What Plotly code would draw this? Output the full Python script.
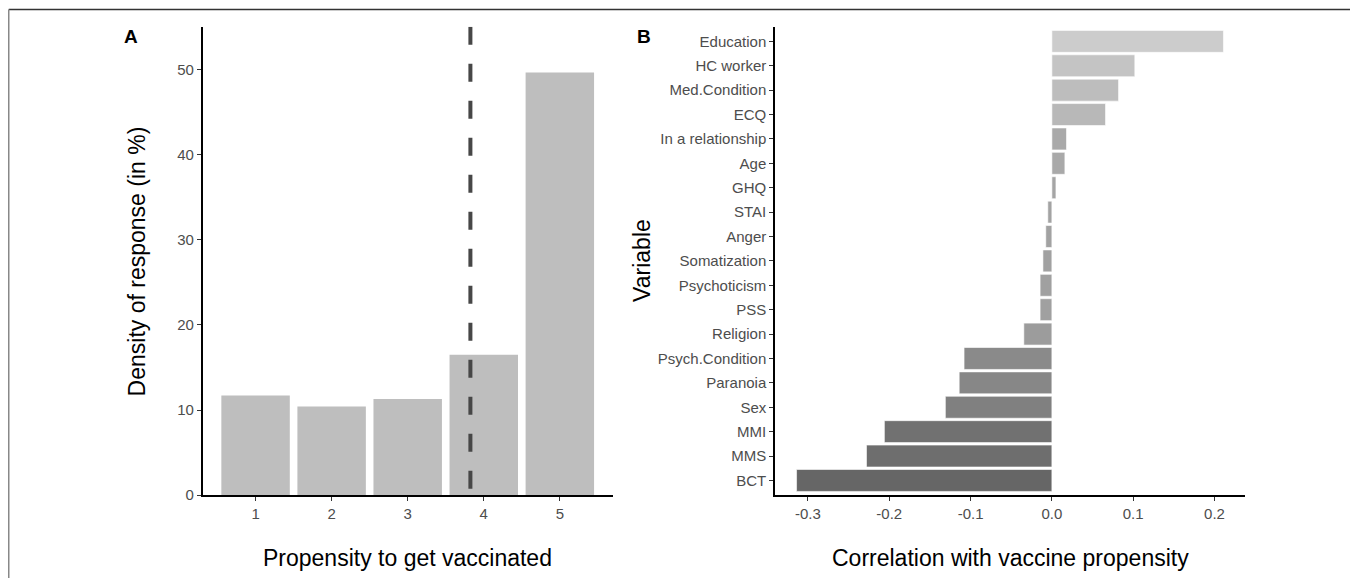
import plotly.graph_objects as go

# ---------------- data ----------------
response_levels = [1, 2, 3, 4, 5]
density_pct = [11.7, 10.4, 11.3, 16.5, 49.7]

variables = ["Education", "HC worker", "Med.Condition", "ECQ", "In a relationship",
             "Age", "GHQ", "STAI", "Anger", "Somatization", "Psychoticism", "PSS",
             "Religion", "Psych.Condition", "Paranoia", "Sex", "MMI", "MMS", "BCT"]
correlations = [0.211, 0.102, 0.082, 0.066, 0.018, 0.016, 0.005, -0.005, -0.0075,
                -0.011, -0.0145, -0.0145, -0.0345, -0.108, -0.114, -0.131, -0.206,
                -0.228, -0.314]

x_ticks_b = [-0.3, -0.2, -0.1, 0.0, 0.1, 0.2]
x_ticktext_b = ["-0.3", "-0.2", "-0.1", "0.0", "0.1", "0.2"]
y_ticks_a = [0, 10, 20, 30, 40, 50]

# mean propensity (dashed line)
mean_prop = sum(l * d for l, d in zip(response_levels, density_pct)) / sum(density_pct)

# the page body has an 8px margin: the figure is placed at (8, 8) in the window
OFF = 8
W, H = 1350, 570
FONT = "Liberation Sans, Arial, sans-serif"
TICKFONT = dict(family=FONT, size=15, color="#4d4d4d")
TITLEFONT = dict(family=FONT, size=23, color="black")


def px_x(p):
    return (p - OFF) / W


def px_y(p):
    return 1 - (p - OFF) / H


fig = go.Figure()

fig.add_trace(go.Bar(
    x=response_levels, y=density_pct, width=0.9,
    marker=dict(color="#bebebe", line=dict(width=0)),
    xaxis="x", yaxis="y", hoverinfo="skip"))

fig.add_trace(go.Scatter(
    x=[mean_prop, mean_prop], y=[55.07, 0], mode="lines",
    line=dict(color="#474747", width=4, dash="18px,19px"),
    xaxis="x", yaxis="y", hoverinfo="skip"))

fig.add_trace(go.Bar(
    x=correlations, y=variables, orientation="h", width=0.9,
    marker=dict(color=correlations,
                colorscale=[[0, "#666666"], [0.2, "#707070"], [0.35, "#808080"],
                            [0.4, "#8c8c8c"], [0.6, "#a4a4a4"], [0.8, "#c5c5c5"],
                            [1, "#cccccc"]],
                cmin=min(correlations), cmax=max(correlations),
                line=dict(color="white", width=0.6)),
    xaxis="x2", yaxis="y2", hoverinfo="skip"))

ydom = [px_y(502), px_y(27)]
axis_common = dict(showline=True, linecolor="black", linewidth=1.5, showgrid=False,
                   zeroline=False, ticks="outside", ticklen=4, tickwidth=1.2,
                   tickcolor="#333333", tickfont=TICKFONT)

fig.update_layout(
    width=W, height=H, autosize=False,
    margin=dict(l=0, r=0, t=0, b=0),
    paper_bgcolor="white", plot_bgcolor="white",
    showlegend=False,
    font=dict(family=FONT),
    xaxis=dict(domain=[px_x(202.7), px_x(612.7)], range=[0.305, 5.695],
               tickvals=response_levels, anchor="y", **axis_common),
    yaxis=dict(domain=ydom, range=[0, 55.07], tickvals=y_ticks_a, anchor="x",
               **axis_common),
    xaxis2=dict(domain=[px_x(775), px_x(1245)], range=[-0.3405, 0.2375],
                tickvals=x_ticks_b, ticktext=x_ticktext_b, anchor="y2", **axis_common),
    yaxis2=dict(domain=ydom, type="category", categoryorder="array",
                categoryarray=variables, range=[18.6, -0.6], anchor="x2",
                **axis_common),
)

annots = [
    dict(text="Density of response (in %)", x=px_x(137), y=px_y(265), textangle=-90,
         font=TITLEFONT),
    dict(text="Propensity to get vaccinated", x=px_x(407.7), y=px_y(566),
         font=TITLEFONT),
    dict(text="Variable", x=px_x(642), y=px_y(264.5), textangle=-90,
         font=TITLEFONT),
    dict(text="Correlation with vaccine propensity", x=px_x(1010), y=px_y(566),
         font=TITLEFONT),
    dict(text="<b>A</b>", x=px_x(131), y=px_y(37),
         font=dict(family=FONT, size=19, color="black")),
    dict(text="<b>B</b>", x=px_x(644), y=px_y(37),
         font=dict(family=FONT, size=19, color="black")),
]
for a in annots:
    fig.add_annotation(xref="paper", yref="paper", showarrow=False,
                       xanchor="center", yanchor="middle", **a)

# outer frame
fig.add_shape(type="line", xref="paper", yref="paper",
              x0=px_x(8.75), x1=px_x(1355.5), y0=px_y(9.5), y1=px_y(9.5),
              line=dict(color="#333333", width=1.5))
fig.add_shape(type="line", xref="paper", yref="paper",
              x0=px_x(8.75), x1=px_x(8.75), y0=px_y(9.5), y1=-0.05,
              line=dict(color="#888888", width=1.5))
fig.add_shape(type="line", xref="paper", yref="paper",
              x0=px_x(1355.5), x1=px_x(1355.5), y0=px_y(9.5), y1=-0.05,
              line=dict(color="#999999", width=1.5))

fig.write_html("out.html")
